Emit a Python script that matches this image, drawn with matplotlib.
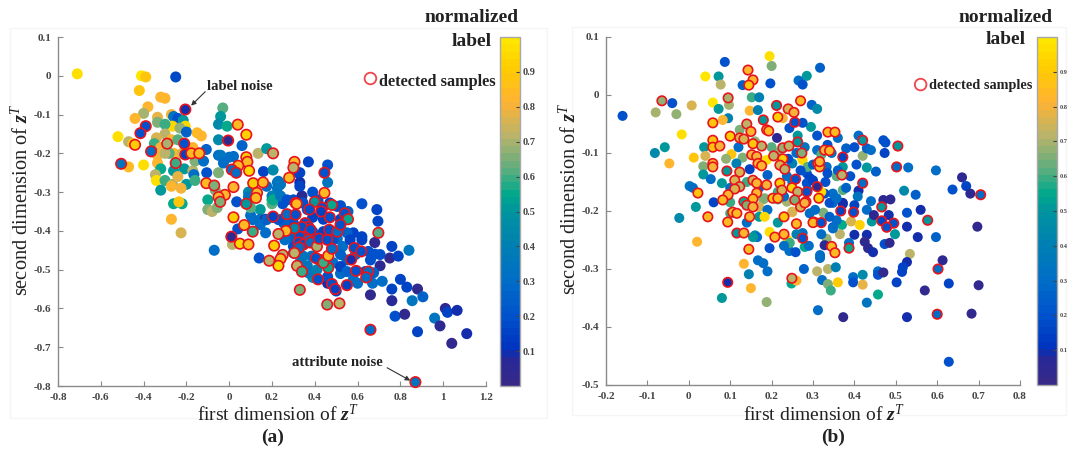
import matplotlib
matplotlib.use("Agg")
import matplotlib.pyplot as plt
from matplotlib.colors import LinearSegmentedColormap, Normalize
from matplotlib.cm import ScalarMappable
from matplotlib.patches import Rectangle

plt.rcParams["font.family"] = ["Liberation Serif", "DejaVu Serif"]
plt.rcParams["mathtext.fontset"] = "custom"
plt.rcParams["mathtext.rm"] = "Liberation Serif"
plt.rcParams["mathtext.it"] = "Liberation Serif:italic"
plt.rcParams["mathtext.bf"] = "Liberation Serif:bold"
plt.rcParams["mathtext.bfit"] = "Liberation Serif:italic:bold"

W, H = 1068, 449

# panel (a), plain samples
a_x = [-.71, -.41, -.39, -.25, -.42, -.32, -.30, -.38, -.40, -.44,
       -.335, -.335, -.27, -.26, -.24, -.215, -.265, -.205, -.23, -.30,
       -.52, -.47, -.45, -.2, -.15, -.13, -.3, -.34, -.35, -.27,
       -.32, -.36, -.335, -.26, -.17, -.107, -.05, 0, -.47, -.40,
       -.335, -.32, -.26, -.21, -.17, -.16, -.105, -.05, -.345, -.34,
       -.30, -.265, -.2, -.27, -.225, -.32, -.165, -.26, -.22, -.235,
       -.27, -.225, -.07, .14, .17, -.1, -.1, -.08, -.065, .035,
       .09, .145, .145, .25, .2, .225, .17, .04, .015, .3,
       -.03, -.04, -.05, -.01, -.05, .06, .135, .175, -.04, .16,
       .205, .24, .37, .46, .33, .33, .46, .23, .225, .2,
       .3, .2, .1, .39, .62, .69, .695, .52, .555, .58,
       .62, .68, .76, .84, .75, .79, .68, .705, .53, .55,
       .66, .52, .715, .67, .8, .76, .83, .88, .905, .855,
       .76, .66, .6, .365, .39, .3, .28, .3, .44, .52,
       .55, .505, .385, .365, .39, .46, .5, .34, .205, .26,
       .775, .82, 1.01, 1.02, 1.065, .96, .985, .88, 1.11, 1.04,
       .02, -.027, -.056, .205, .175, .24, .32, .33, .27, .345,
       .415, .505, .47, .285, .255, .26, .3, .345, .33, .37,
       .41, .485, .52, .52, .55, .485, .565, .62, .44, .39,
       .46, .58, .635, .675, .59, .65, .705, .09, .145, .11,
       .175, .23, .1, -.16, -.28, -.22, -.24, -.3, -.24, -.12]
a_y = [.005, 0, -.003, -.003, -.038, -.055, -.058, -.08, -.097, -.11,
       -.107, -.12, -.10, -.105, -.11, -.115, -.13, -.13, -.135, -.125,
       -.157, -.17, -.175, -.145, -.147, -.155, -.15, -.16, -.175, -.165,
       -.185, -.195, -.205, -.2, -.185, -.19, -.205, -.21, -.235, -.23,
       -.225, -.24, -.245, -.24, -.245, -.22, -.25, -.25, -.255, -.27,
       -.27, -.28, -.28, -.285, -.29, -.295, -.255, -.33, -.33, -.325,
       -.37, -.405, -.45, -.47, -.405, -.32, -.345, -.35, -.295, -.325,
       -.3, -.345, -.37, -.33, -.32, -.275, -.37, -.395, -.435, -.42,
       -.083, -.105, -.125, -.13, -.165, -.18, -.2, -.188, -.205, -.247,
       -.243, -.28, -.222, -.23, -.25, -.275, -.275, -.272, -.29, -.31,
       -.32, -.33, -.36, -.3, -.33, -.345, -.375, -.335, -.35, -.405,
       -.415, -.43, -.44, -.45, -.47, -.465, -.46, -.49, -.44, -.475,
       -.475, -.51, -.53, -.535, -.525, -.55, -.545, -.55, -.57, -.58,
       -.58, -.565, -.535, -.345, -.365, -.38, -.4, -.44, -.37, -.37,
       -.405, -.42, -.465, -.49, -.52, -.535, -.555, -.31, -.365, -.365,
       -.62, -.615, -.6, -.61, -.605, -.625, -.645, -.66, -.665, -.69,
       -.208, -.225, -.34, -.32, -.285, -.31, -.25, -.285, -.32, -.328,
       -.32, -.337, -.328, -.415, -.38, -.423, -.457, -.465, -.482, -.508,
       -.5, -.482, -.461, -.492, -.505, -.423, -.423, -.423, -.402, -.402,
       -.518, -.525, -.505, -.508, -.461, -.453, -.461, -.312, -.384, -.371,
       -.371, -.371, -.34, -.27, -.2, -.2, -.165, -.2, -.26, -.22]
a_label = [.97, .98, .88, .18, .88, .82, .82, .82, .7, .82,
           .78, .65, .8, .35, .2, .5, .95, .95, .68, .6,
           .97, .72, .9, .25, .85, .82, .72, .75, .6, .82,
           .8, .3, .8, .85, .82, .25, .3, .3, .85, .97,
           .82, .55, .5, .5, .72, .65, .2, .65, .72, .97,
           .6, .7, .5, .82, .8, .52, .3, .55, .55, .88,
           .82, .75, .3, .2, .3, .55, .65, .72, .65, .2,
           .45, .5, .3, .2, .55, .35, .05, .2, .72, .2,
           .62, .5, .45, .55, .45, .25, .72, .52, .35, .15,
           .45, .35, .15, .2, .15, .1, .35, .35, .35, .4,
           .2, .62, .3, .2, .2, .15, .15, .2, .25, .15,
           .15, .03, .15, .35, .03, .15, .2, .05, .3, .25,
           .2, .3, .3, .3, .15, .15, .15, .03, .25, .35,
           .08, .03, .3, .2, .15, .2, .3, .2, .15, .15,
           .25, .3, .3, .35, .45, .1, .15, .05, .05, .3,
           .2, .03, .05, .15, .1, .35, .05, .15, .1, .03,
           .3, .3, .65, .55, .3, .35, .15, .15, .2, .2,
           .2, .2, .15, .25, .25, .3, .25, .35, .35, .35,
           .4, .3, .25, .15, .25, .2, .15, .15, .15, .2,
           .2, .3, .2, .25, .3, .2, .2, .35, .3, .3,
           .25, .2, .62, .6, .62, .75, .62, .72, .78, .3]

# panel (a), detected samples
a_det_x = [-.205, -.39, -.415, -.505, -.44, -.365, -.29, -.25, -.21, -.205,
           -.177, -.14, .04, .08, -.005, .08, .085, .042, .012, .033,
           .093, .205, .305, .3, .28, -.107, -.07, .112, .158, .02,
           -.02, -.05, -.042, .13, .125, .08, .31, .02, .205, .27,
           .31, .07, .445, .445, .315, .4, .48, .375, .435, .54,
           .555, .47, .43, .355, .37, .345, .365, .34, .38, .355,
           .33, .37, .325, .347, .327, .38, .305, .265, .23, .11,
           .05, .09, .21, .25, .24, .23, .187, .305, .317, .34,
           .415, .33, .458, .515, .48, .495, .55, .463, .425, .405,
           .44, .463, .48, .41, .42, .458, .467, .505, .52, .585,
           .617, .57, .593, .65, .64, .697, .66, .87, .01]
a_det_y = [-.087, -.13, -.148, -.227, -.178, -.195, -.175, -.225, -.175, -.203,
           -.2, -.2, -.126, -.152, -.167, -.21, -.222, -.232, -.242, -.25,
           -.245, -.2, -.222, -.237, -.263, -.277, -.283, -.277, -.275, -.287,
           -.307, -.313, -.325, -.302, -.315, -.33, -.328, -.365, -.363, -.357,
           -.358, -.385, -.25, -.302, -.33, -.325, -.333, -.345, -.34, -.355,
           -.37, -.365, -.35, -.38, -.39, -.397, -.405, -.39, -.397, -.417,
           -.415, -.423, -.43, -.435, -.443, -.43, -.393, -.4, -.408, -.402,
           -.433, -.435, -.438, -.462, -.472, -.49, -.477, -.457, -.49, -.505,
           -.525, -.552, -.59, -.587, -.537, -.55, -.54, -.495, -.475, -.47,
           -.482, -.464, -.446, -.44, -.42, -.423, -.397, -.402, -.384, -.444,
           -.453, -.474, -.503, -.505, -.52, -.405, -.655, -.79, -.415]
a_det_label = [.1, .2, .2, .35, .9, .3, .7, .6, .2, .15,
               .85, .85, .85, .92, .03, .9, .85, .85, .3, .3,
               .95, .72, .85, .72, .85, .85, .65, .9, .85, .82,
               .82, .82, .65, .85, .85, .5, .3, .9, .15, .3,
               .2, .85, .2, .85, .85, .5, .55, .2, .2, .2,
               .55, .2, .15, .2, .2, .2, .2, .2, .2, .2,
               .2, .3, .2, .2, .3, .3, .45, .85, .72, .6,
               .95, .85, .9, .72, .85, .95, .72, .72, .72, .6,
               .2, .65, .65, .72, .2, .15, .15, .55, .3, .2,
               .6, .85, .3, .7, .2, .2, .2, .3, .2, .2,
               .2, .1, .2, .3, .3, .62, .3, .35, .05]

# panel (b), plain samples
b_x = [-.16, -.04, -.08, -.03, .007, .087, .195, .2, .04, .072,
       .077, .13, .197, .285, .265, .275, .317, .058, .072, .097,
       .147, .167, .152, .17, -.017, .095, -.082, -.058, -.047, .012,
       .037, .04, .103, .035, .035, .053, .08, .002, .01, .017,
       -.023, .06, .02, .123, .213, .243, .263, .295, .31, .297,
       .31, .227, .188, .13, .147, .115, .19, .25, .213, .275,
       .285, .237, .292, .18, .17, .19, .215, .237, .25, .1,
       .1, .17, .183, .215, .14, .16, .195, .275, .082, .275,
       .273, .287, .333, .335, .357, .372, .36, .335, .31, .32,
       .345, .372, .348, .328, .293, .287, .41, .47, .475, .473,
       .42, .38, .4, .43, .44, .405, .43, .452, .53, .597,
       .52, .548, .637, .66, .67, .68, .697, .41, .408, .44,
       .47, .487, .527, .56, .483, .43, .372, .348, .325, .442,
       .447, .37, .392, .413, .527, .553, .597, .498, .4, .43,
       .425, .433, .445, .473, .485, .534, .613, .387, .317, .333,
       .365, .348, .28, .165, .155, .195, .243, .258, .328, .527,
       .517, .515, .167, .18, .19, .133, .145, .15, .08, .188,
       .317, .278, .31, .336, .355, .322, .336, .343, .36, .248,
       .26, .397, .397, .42, .42, .457, .457, .47, .502, .57,
       .628, .7, .457, .43, .312, .373, .527, .683, .628,
       .239, .244, .25, .292, .357, .348, .305, .292, .34, .372,
       .357, .215, .183, .285, .3, .32, .26, .28, .24, .2,
       .16, .12, .09, .25, .27, .23, .14, .1, .17, .3,
       .33, .36, .39, .34, .32, .29, .26, .23, .38, .4]
b_y = [-.036, -.014, -.03, -.033, -.018, .057, .067, .05, .032, .032,
       .018, .017, .02, .033, .025, .018, .047, -.013, -.024, -.017,
       -.027, -.026, -.004, -.004, -.068, -.04, -.1, -.09, -.118, -.108,
       -.09, -.105, -.102, -.123, -.137, -.145, -.152, -.157, -.16, -.193,
       -.212, -.185, -.253, -.06, -.074, -.057, -.07, -.055, -.07, -.017,
       -.024, -.04, -.112, -.108, -.128, -.118, -.138, -.118, -.1, -.112,
       -.135, -.14, -.147, -.18, -.193, -.198, -.18, -.184, -.202, -.185,
       -.204, -.21, -.21, -.22, -.22, -.242, -.236, -.238, -.043, -.048,
       -.108, -.124, -.124, -.135, -.14, -.124, -.074, -.086, -.095, -.103,
       -.1, -.164, -.17, -.17, -.147, -.164, -.07, -.078, -.082, -.1,
       -.105, -.092, -.09, -.092, -.095, -.12, -.125, -.132, -.125, -.13,
       -.165, -.172, -.163, -.142, -.157, -.17, -.227, -.165, -.175, -.183,
       -.181, -.18, -.203, -.198, -.207, -.198, -.188, -.186, -.203, -.218,
       -.207, -.224, -.218, -.224, -.227, -.245, -.245, -.24, -.241, -.241,
       -.253, -.264, -.271, -.257, -.255, -.274, -.285, -.255, -.276, -.248,
       -.24, -.228, -.262, -.245, -.245, -.264, -.269, -.271, -.259, -.288,
       -.297, -.305, -.285, -.29, -.304, -.291, -.309, -.333, -.35, -.357,
       -.281, -.3, -.304, -.3, -.297, -.319, -.326, -.337, -.323, -.325,
       -.32, -.314, -.323, -.31, -.327, -.304, -.31, -.306, -.323, -.337,
       -.325, -.328, -.344, -.358, -.371, -.383, -.383, -.377, -.46,
       -.25, -.255, -.201, -.204, -.216, -.23, -.198, -.143, -.186, -.186,
       -.178, -.167, -.178, -.152, -.147, -.167, -.1, -.09, -.11, -.09,
       -.08, -.09, -.11, -.15, -.13, -.175, -.15, -.16, -.16, -.12,
       -.15, -.13, -.14, -.21, -.24, -.26, -.24, -.26, -.16, -.19]
b_label = [.2, .2, .7, .68, .75, .2, .97, .65, .98, .5,
           .72, .25, .2, .5, .3, .2, .25, .98, .5, .7,
           .82, .4, .6, .4, .97, .4, .45, .5, .82, .88,
           .5, .75, .88, .65, .5, .3, .5, .35, .3, .5,
           .45, .15, .82, .65, .05, .2, .5, .5, .2, .25,
           .45, .8, .97, .65, .15, .4, .25, .4, .68, .95,
           .2, .3, .3, .68, .75, .3, .6, .7, .82, .6,
           .6, .5, .95, .5, .3, .45, .97, .3, .82, .2,
           .95, .62, .3, .2, .62, .5, .3, .2, .3, .62,
           .35, .62, .3, .2, .2, .3, .3, .2, .2, .15,
           .68, .25, .2, .25, .3, .2, .5, .25, .3, .3,
           .45, .25, .2, .05, .15, .05, .03, .1, .35, .3,
           .05, .05, .2, .1, .1, .3, .1, .3, .65, .5,
           .05, .55, .75, .92, .1, .1, .25, .5, .1, .1,
           .03, .05, .1, .2, .03, .72, .05, .3, .3, .68,
           .72, .2, .55, .3, .5, .2, .3, .2, .05, .1,
           .15, .15, .3, .3, .3, .82, .4, .82, .5, .68,
           .3, .25, .72, .72, .4, .3, .65, .6, .9, .55,
           .82, .3, .2, .45, .78, .3, .2, .03, .15, .03,
           .15, .03, .55, .35, .3, .03, .1, .03, .2,
           .92, .6, .75, .3, .3, .3, .3, .15, .2, .1,
           .3, .6, .65, .2, .15, .95, .3, .35, .2, .62,
           .68, .3, .68, .35, .2, .3, .6, .3, .25, .25,
           .2, .25, .2, .25, .3, .3, .4, .3, .25, .15]

# panel (b), detected samples
b_det_x = [-.065, .095, .143, .155, .145, .27, .212, .24, .254, .215,
           .058, .14, .18, .15, .188, .193, .256, .1, .123, .133,
           .058, .058, .075, .155, .176, .263, .227, .242, .273, .205,
           .152, .164, .167, .176, .058, .058, .092, .123, .227, .22,
           .232, .312, .316, .258, .111, .155, .164, .188, .22, .249,
           .31, .123, .111, .164, .225, .263, .285, .022, .095, .082,
           .155, .203, .215, .256, .283, .314, .133, .14, .155, .27,
           .106, .116, .046, .094, .147, .23, .302, .26, .116, .133,
           .208, .23, .275, .42, .336, .353, .505, .328, .34, .372,
           .316, .502, .37, .42, .705, .28, .466, .367, .398, .577,
           .466, .495, .3, .32, .478, .345, .353, .387, .602, .6,
           .094, .249, .145]
b_det_y = [-.01, -.005, .043, .026, .017, -.01, -.018, -.024, -.03, -.038,
           -.048, -.05, -.043, -.063, -.06, -.062, -.047, -.071, -.074, -.076,
           -.078, -.09, -.088, -.084, -.088, -.081, -.091, -.088, -.1, -.105,
           -.103, -.106, -.118, -.122, -.118, -.124, -.131, -.133, -.11, -.121,
           -.128, -.118, -.124, -.145, -.147, -.147, -.152, -.155, -.152, -.16,
           -.158, -.158, -.162, -.169, -.164, -.167, -.167, -.169, -.172, -.181,
           -.179, -.178, -.178, -.181, -.184, -.178, -.184, -.19, -.193, -.193,
           -.202, -.204, -.21, -.219, -.21, -.21, -.219, -.222, -.238, -.238,
           -.245, -.24, -.247, -.078, -.064, -.064, -.088, -.095, -.096, -.107,
           -.115, -.124, -.138, -.152, -.172, -.186, -.193, -.2, -.202, -.216,
           -.217, -.221, -.22, -.22, -.228, -.261, -.272, -.264, -.3, -.378,
           -.323, -.316, -.266]
b_det_label = [.68, .7, .82, .82, .88, .85, .5, .75, .8, .92,
               .88, .72, .5, .82, .85, .85, .2, .9, .75, .75,
               .88, .88, .8, .88, .72, .5, .68, .72, .65, .72,
               .8, .8, .82, .82, .82, .8, .5, .75, .9, .75,
               .72, .85, .85, .2, .75, .75, .82, .8, .9, .92,
               .03, .72, .75, .82, .75, .72, .2, .88, .82, .85,
               .85, .88, .85, .65, .75, .92, .55, .65, .8, .75,
               .82, .85, .85, .85, .82, .88, .88, .85, .5, .82,
               .85, .82, .2, .5, .85, .85, .5, .8, .85, .15,
               .82, .3, .72, .3, .3, .8, .5, .15, .2, .5,
               .15, .2, .85, .2, .2, .85, .85, .55, .3, .3,
               .1, .72, .85]

a_xticks = [-.8, -.6, -.4, -.2, 0, .2, .4, .6, .8, 1, 1.2]
a_yticks = [.1, 0, -.1, -.2, -.3, -.4, -.5, -.6, -.7, -.8]
b_xticks = [-.2, -.1, 0, .1, .2, .3, .4, .5, .6, .7, .8]
b_yticks = [.1, 0, -.1, -.2, -.3, -.4, -.5]
bar_ticks = [.1, .2, .3, .4, .5, .6, .7, .8, .9]

cmap_colors = [(0.21, 0.16, 0.53), (0.15, 0.16, 0.60), (0.0, 0.2, 0.75), (0.0, 0.33, 0.8),
               (0.0, 0.43, 0.78), (0.0, 0.5, 0.7), (0.0, 0.58, 0.62), (0.0, 0.66, 0.55),
               (0.35, 0.68, 0.5), (0.72, 0.7, 0.42), (1.0, 0.7, 0.2), (1.0, 0.8, 0.0), (1.0, 0.9, 0.0)]
cmap_pos = [0, .07, .1, .2, .3, .4, .5, .55, .62, .72, .82, .92, 1]
parula = LinearSegmentedColormap.from_list("parula_like", list(zip(cmap_pos, cmap_colors)), N=48)
norm = Normalize(0, 1)


def fx(px):
    return px / W


def fy(py):
    return 1 - py / H


def fmt(v):
    if abs(v) < 1e-9:
        return "0"
    return f"{v:g}"


def draw_panel(box, xlim, ylim, xticks, yticks, plain, detected, msize, ring_size):
    left, top, right, bottom = box
    ax = fig.add_axes([fx(left), fy(bottom), fx(right - left), (bottom - top) / H])
    ax.patch.set_alpha(0)
    ax.scatter(plain[0], plain[1], c=plain[2], cmap=parula, norm=norm, s=msize, linewidths=0, zorder=2)
    ax.scatter(detected[0], detected[1], c=detected[2], cmap=parula, norm=norm, s=ring_size,
               edgecolors="#e8141c", linewidths=1.2, zorder=3, clip_on=False)
    ax.set_xlim(xlim)
    ax.set_ylim(ylim)
    ax.set_xticks(xticks)
    ax.set_yticks(yticks)
    ax.set_xticklabels([fmt(v) for v in xticks], fontweight="bold", fontsize=8, color="#444444")
    ax.set_yticklabels([fmt(v) for v in yticks], fontweight="bold", fontsize=8, color="#444444")
    ax.tick_params(direction="in", length=3.5, width=0.8, color="#8a8a8a", pad=5)
    for side in ["top", "right"]:
        ax.spines[side].set_visible(False)
    for side in ["left", "bottom"]:
        ax.spines[side].set_color("#8a8a8a")
        ax.spines[side].set_linewidth(1.0)
    return ax


def draw_bar(box, labelsize, pad):
    left, top, right, bottom = box
    cax = fig.add_axes([fx(left), fy(bottom), fx(right - left), (bottom - top) / H])
    cb = fig.colorbar(ScalarMappable(norm=norm, cmap=parula), cax=cax)
    cb.set_ticks(bar_ticks)
    cb.set_ticklabels([fmt(v) for v in bar_ticks], fontweight="bold", fontsize=labelsize, color="#444444")
    cax.tick_params(direction="in", length=3, width=0.8, color="#444444", pad=pad)
    cb.outline.set_edgecolor("#a8a8a8")
    cb.outline.set_linewidth(1.0)


def noise_arrow(ax, start, end):
    ax.annotate("", xy=end, xytext=start,
                arrowprops=dict(arrowstyle="-|>", color="#333333", lw=0.8, shrinkA=0, shrinkB=0,
                                mutation_scale=7), zorder=5)


fig = plt.figure(figsize=(W / 100, H / 100), dpi=100)

# the faint frames of the two pasted panels
for frame in [(10, 28, 547, 418), (572, 27, 1066, 415)]:
    fig.add_artist(Rectangle((fx(frame[0]), fy(frame[3])), fx(frame[2] - frame[0]), (frame[3] - frame[1]) / H,
                             transform=fig.transFigure, facecolor="white", edgecolor="#f5f5f5", linewidth=1,
                             zorder=-1))

ax_a = draw_panel((58, 37, 486, 386), (-.8, 1.2), (-.8, .1), a_xticks, a_yticks,
                  (a_x, a_y, a_label), (a_det_x, a_det_y, a_det_label), 63, 56)
ax_b = draw_panel((606, 37, 1020, 385), (-.2, .8), (-.5, .1), b_xticks, b_yticks,
                  (b_x, b_y, b_label), (b_det_x, b_det_y, b_det_label), 52, 46)
draw_bar((500, 37, 520, 386), 7.5, 2)
draw_bar((1037, 37, 1057, 385), 4.5, 2)

noise_arrow(ax_a, (-.112, -.041), (-.178, -.077))
noise_arrow(ax_a, (.738, -.753), (.846, -.786))
fig.text(fx(207), fy(87), "label noise", fontsize=10.5, fontweight="bold", color="#222222", va="center")
fig.text(fx(292), fy(363), "attribute noise", fontsize=10.5, fontweight="bold", color="#222222", va="center")

# legend entries
ax_a.scatter([.66], [-.007], s=70, facecolors="none", edgecolors="#f0454a", linewidths=1.3, zorder=4)
ax_b.scatter([.56], [.018], s=70, facecolors="none", edgecolors="#f0454a", linewidths=1.3, zorder=4)
fig.text(fx(379), fy(82), "detected samples", fontsize=11.7, fontweight="bold", color="#222222", va="center")
fig.text(fx(929), fy(85), "detected samples", fontsize=10.3, fontweight="bold", color="#222222", va="center")

fig.text(fx(472), fy(17), "normalized", fontsize=14, fontweight="bold", color="#222222", ha="center", va="center")
fig.text(fx(472), fy(41), "label", fontsize=14, fontweight="bold", color="#222222", ha="center", va="center")
fig.text(fx(1006), fy(17), "normalized", fontsize=14, fontweight="bold", color="#222222", ha="center", va="center")
fig.text(fx(1006), fy(40), "label", fontsize=14, fontweight="bold", color="#222222", ha="center", va="center")

xlabel = r"first dimension of $\mathbfit{z}^{T}$"
ylabel = r"second dimension of $\mathbfit{z}^{T}$"
fig.text(fx(278), fy(414), xlabel, fontsize=14, color="#222222", ha="center", va="center")
fig.text(fx(824), fy(414), xlabel, fontsize=14, color="#222222", ha="center", va="center")
fig.text(fx(22), fy(200), ylabel, fontsize=14.7, color="#222222", ha="center", va="center", rotation=90)
fig.text(fx(570), fy(199), ylabel, fontsize=14.7, color="#222222", ha="center", va="center", rotation=90)

fig.text(fx(273), fy(437), "(a)", fontsize=14, fontweight="bold", color="#222222", ha="center", va="center")
fig.text(fx(833), fy(437), "(b)", fontsize=14, fontweight="bold", color="#222222", ha="center", va="center")

fig.savefig("out.png", dpi=100)
